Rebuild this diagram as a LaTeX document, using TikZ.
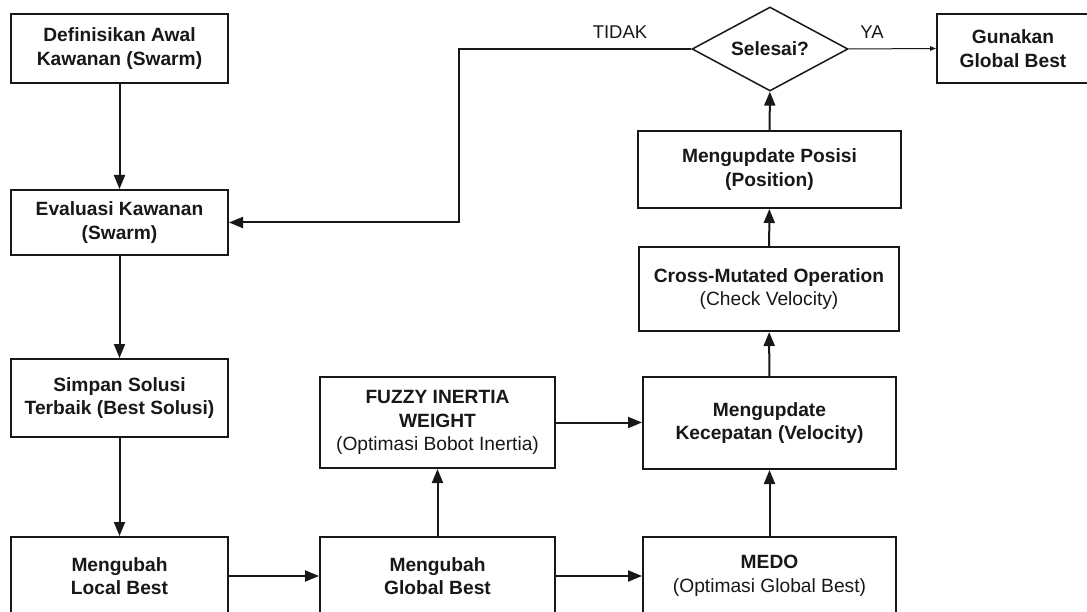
\documentclass[tikz,border=0pt]{standalone}
\usepackage{fontspec}
\setmainfont{Liberation Sans}
\usetikzlibrary{arrows.meta,shapes.geometric}
\definecolor{ink}{HTML}{181818}
\begin{document}
\begin{tikzpicture}[x=1pt,y=-1pt,
  every node/.style={text=ink},
  box/.style={draw=ink,line width=2pt,align=center,inner sep=0pt,
    font=\fontsize{19.2}{23.5}\selectfont\bfseries},
  flow/.style={draw=ink,line width=2pt,-{Triangle[length=14pt,width=11pt]}},
  thinflow/.style={draw=ink,line width=1pt,-{Triangle[length=6pt,width=4.5pt]}},
  lbl/.style={font=\fontsize{18.5}{22}\selectfont,text=ink}]
  \fill[white] (0,0) rectangle (1087,612);
  \useasboundingbox (0,0) rectangle (1087,612);

  % left column
  \node[box,minimum width=217pt,minimum height=69pt] (def) at (119.5,48.5)
    {Definisikan Awal\\Kawanan (Swarm)};
  \node[box,minimum width=217pt,minimum height=65pt] (eval) at (119.5,222.5)
    {Evaluasi Kawanan\\(Swarm)};
  \node[box,minimum width=217pt,minimum height=78pt] (simpan) at (119.5,398)
    {Simpan Solusi\\Terbaik (Best Solusi)};
  \node[box,minimum width=217pt,minimum height=78pt] (local) at (119.5,576)
    {Mengubah\\Local Best};

  % middle column
  \node[box,minimum width=235pt,minimum height=78pt] (global) at (437.5,576)
    {Mengubah\\Global Best};
  \node[box,minimum width=235pt,minimum height=91pt] (fuzzy) at (437.5,422.5)
    {FUZZY INERTIA\\WEIGHT\\{\mdseries(Optimasi Bobot Inertia)}};

  % right column
  \node[box,minimum width=253pt,minimum height=78pt] (medo) at (769.5,576)
    {MEDO\\{\mdseries(Optimasi Global Best)}};
  \node[box,minimum width=253pt,minimum height=92pt] (velo) at (769.5,423)
    {Mengupdate\\Kecepatan (Velocity)};
  \node[box,minimum width=260pt,minimum height=84pt] (cross) at (769,289)
    {Cross-Mutated Operation\\{\mdseries(Check Velocity)}};
  \node[box,minimum width=263pt,minimum height=77pt] (posisi) at (769.5,169.5)
    {Mengupdate Posisi\\(Position)};
  \node[box,shape=diamond,aspect=1.857,minimum width=156pt,minimum height=84pt,
    line width=1.5pt] (dec) at (770,49) {Selesai?};
  \node[box,minimum width=152pt,minimum height=69pt] (use) at (1013,48.5)
    {Gunakan\\Global Best};

  % loop-back corner
  \coordinate (turn) at (459,49);

  % connectors
  \draw[flow] (def) -- (eval);
  \draw[flow] (eval) -- (simpan);
  \draw[flow] (simpan) -- (local);
  \draw[flow] (local) -- (global);
  \draw[flow] (global) -- (fuzzy);
  \draw[flow] (global) -- (medo);
  \draw[flow] (fuzzy.east) -- (fuzzy.east -| velo.west);
  \draw[flow] (medo) -- (velo);
  \draw[flow] (velo) -- (cross);
  \draw[flow] (cross) -- (posisi);
  \draw[flow] (posisi) -- (dec);
  \draw[flow] (dec.west) -- (turn) |- (eval.east);
  \draw[thinflow] (dec.east) -- (use.west);

  % branch labels
  \node[lbl] (no) at (620,32) {TIDAK};
  \node[lbl] (yes) at (872,32) {YA};
\end{tikzpicture}
\end{document}
